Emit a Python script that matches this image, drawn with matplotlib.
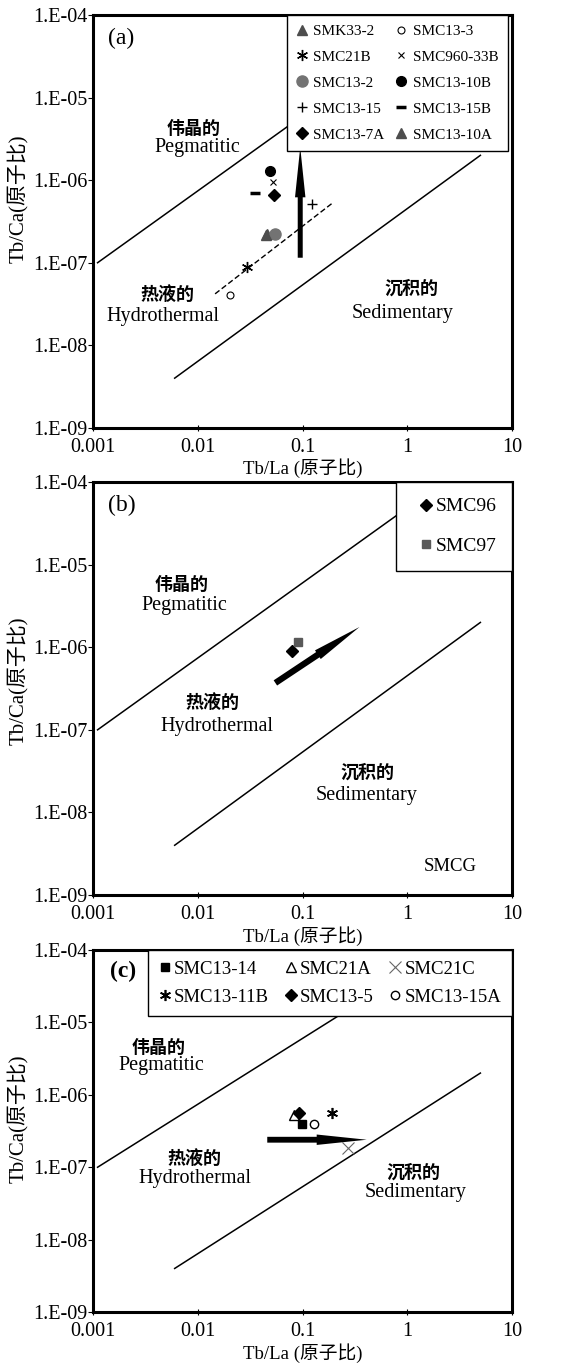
import numpy as np
import matplotlib
matplotlib.use('Agg')
import matplotlib.pyplot as plt
from matplotlib.ticker import FixedLocator, FixedFormatter, NullLocator

plt.rcParams['font.family'] = ['Liberation Serif', 'Noto Sans CJK SC']

# ---- boundary lines (same on every panel)
upper_x = [0.0011, 2.2]
upper_y = [1.0e-7, 1.0e-4]
lower_x = [0.006, 5.0]
lower_y = [4.0e-9, 2.0e-6]

xticks = [0.001, 0.01, 0.1, 1, 10]
xticklabels = ['0.001', '0.01', '0.1', '1', '10']
yticks = [1e-9, 1e-8, 1e-7, 1e-6, 1e-5, 1e-4]
yticklabels = ['1.E-09', '1.E-08', '1.E-07', '1.E-06', '1.E-05', '1.E-04']

# ---- panel (a) samples
a_names = ['SMK33-2', 'SMC13-3', 'SMC21B', 'SMC960-33B', 'SMC13-2',
           'SMC13-10B', 'SMC13-15', 'SMC13-15B', 'SMC13-7A', 'SMC13-10A']
a_x = [0.046, 0.0204, 0.0296, 0.052, 0.055, 0.049, 0.124, 0.035, 0.053, 0.045]
a_y = [2.2e-7, 4.1e-8, 8.9e-8, 9.5e-7, 2.2e-7, 1.29e-6, 5.1e-7, 7.0e-7, 6.6e-7, 2.15e-7]
a_trend_x = [0.0146, 0.19]
a_trend_y = [4.2e-8, 5.2e-7]
a_arrow_x = [0.095, 0.095]
a_arrow_y = [1.15e-7, 2.5e-6]

# ---- panel (b)
b_names = ['SMC96', 'SMC97']
b_x = [0.079, 0.091]
b_y = [9.0e-7, 1.15e-6]
b_arrow_x = [0.055, 0.35]
b_arrow_y = [3.7e-7, 1.76e-6]

# ---- panel (c)
c_names = ['SMC13-14', 'SMC21A', 'SMC21C', 'SMC13-11B', 'SMC13-5', 'SMC13-15A']
c_x = [0.099, 0.083, 0.27, 0.19, 0.092, 0.129]
c_y = [4.0e-7, 5.3e-7, 1.87e-7, 5.6e-7, 5.6e-7, 4.0e-7]
c_arrow_x = [0.046, 0.41]
c_arrow_y = [2.4e-7, 2.4e-7]

xlab = 'Tb/La (原子比)'
ylab = 'Tb/Ca(原子比)'

fig = plt.figure(figsize=(5.65, 13.67), dpi=100)
axa = fig.add_axes([0.165, 0.687, 0.741, 0.302])
axb = fig.add_axes([0.165, 0.3453, 0.741, 0.302])
axc = fig.add_axes([0.165, 0.0402, 0.741, 0.2648])


def setup(ax, ylab_y):
    ax.set_xscale('log')
    ax.set_yscale('log')
    ax.set_xlim(0.001, 10)
    ax.set_ylim(1e-9, 1e-4)
    ax.xaxis.set_major_locator(FixedLocator(xticks))
    ax.xaxis.set_major_formatter(FixedFormatter(xticklabels))
    ax.yaxis.set_major_locator(FixedLocator(yticks))
    ax.yaxis.set_major_formatter(FixedFormatter(yticklabels))
    ax.xaxis.set_minor_locator(NullLocator())
    ax.yaxis.set_minor_locator(NullLocator())
    ax.tick_params(axis='x', direction='inout', length=5, labelsize=14.5, pad=5)
    ax.tick_params(axis='y', direction='out', length=3.5, labelsize=14.5, pad=0.5)
    for s in ax.spines.values():
        s.set_linewidth(2.2)
    ax.plot(upper_x, upper_y, color='k', lw=1.1)
    ax.plot(lower_x, lower_y, color='k', lw=1.1)
    ax.set_xlabel(xlab, fontsize=13.5, labelpad=1)
    ax.set_ylabel(ylab, fontsize=15)
    ax.yaxis.set_label_coords(-0.153, ylab_y)


def region_text(ax, pos):
    cn = dict(fontsize=13, fontweight='bold', family=['Noto Sans CJK SC'], ha='center', va='center')
    en = dict(fontsize=14.5, ha='center', va='center')
    ax.text(*pos[0], '伟晶的', transform=ax.transAxes, **cn)
    ax.text(*pos[1], 'Pegmatitic', transform=ax.transAxes, **en)
    ax.text(*pos[2], '热液的', transform=ax.transAxes, **cn)
    ax.text(*pos[3], 'Hydrothermal', transform=ax.transAxes, **en)
    ax.text(*pos[4], '沉积的', transform=ax.transAxes, **cn)
    ax.text(*pos[5], 'Sedimentary', transform=ax.transAxes, **en)


def arrow(ax, xs, ys, tw=0.36):
    ax.annotate('', xy=(xs[1], ys[1]), xytext=(xs[0], ys[0]),
                arrowprops=dict(arrowstyle='simple,head_length=3.6,head_width=0.75,tail_width=%g' % tw,
                                mutation_scale=10, lw=0, fc='k', ec='k',
                                shrinkA=0, shrinkB=0), zorder=3)


# ================= (a)
setup(axa, 0.555)
region_text(axa, [(0.239, 0.726), (0.248, 0.678), (0.177, 0.322),
                  (0.167, 0.269), (0.761, 0.339), (0.74, 0.278)])
axa.text(0.035, 0.97, '(a)', transform=axa.transAxes, fontsize=17, va='top')
axa.plot(a_trend_x, a_trend_y, color='k', lw=1, ls=(0, (4, 2)))
arrow(axa, a_arrow_x, a_arrow_y)
a_style = [
    dict(marker='^', color='0.3', ms=7),
    dict(marker='o', mfc='white', mec='k', ms=5, mew=0.8),
    dict(marker=(6, 2, 0), color='k', ms=8, mew=1),
    dict(marker='x', color='k', ms=5, mew=0.8),
    dict(marker='o', color='0.45', ms=8),
    dict(marker='o', color='k', ms=7),
    dict(marker='+', color='k', ms=7, mew=1),
    dict(marker='_', color='k', ms=7, mew=2.5),
    dict(marker='D', color='k', ms=6),
    dict(marker='^', color='0.3', ms=7),
]
for name, x, y, st in zip(a_names, a_x, a_y, a_style):
    axa.plot([x], [y], ls='none', label=name, **st)
h, l = axa.get_legend_handles_labels()
order = [0, 2, 4, 6, 8, 1, 3, 5, 7, 9]
lg = axa.legend([h[i] for i in order], [l[i] for i in order], ncol=2,
                loc='upper right', bbox_to_anchor=(0.99, 1.0), borderaxespad=0,
                fontsize=11, fancybox=False, framealpha=1, edgecolor='k',
                handlelength=0.8, handletextpad=0.35, columnspacing=0.7,
                labelspacing=0.8, borderpad=0.6)
lg.get_frame().set_linewidth(1.0)

# ================= (b)
setup(axb, 0.518)
region_text(axb, [(0.212, 0.751), (0.218, 0.702), (0.284, 0.467),
                  (0.296, 0.407), (0.654, 0.298), (0.654, 0.242)])
axb.text(0.035, 0.97, '(b)', transform=axb.transAxes, fontsize=17, va='top')
axb.text(0.852, 0.068, 'SMCG', transform=axb.transAxes, fontsize=13.5,
         ha='center', va='center')
arrow(axb, b_arrow_x, b_arrow_y, tw=0.45)
b_style = [dict(marker='D', color='k', ms=6),
           dict(marker='s', color='0.35', ms=6)]
for name, x, y, st in zip(b_names, b_x, b_y, b_style):
    axb.plot([x], [y], ls='none', label=name, **st)
lg = axb.legend(loc='upper right', bbox_to_anchor=(1.0, 1.0), borderaxespad=0,
                fontsize=14, fancybox=False, framealpha=1, edgecolor='k',
                handlelength=1.5, handletextpad=-0.25, labelspacing=1.15,
                borderpad=0.8)
lg.get_frame().set_linewidth(1.0)

# ================= (c)
setup(axc, 0.533)
region_text(axc, [(0.155, 0.732), (0.162, 0.682), (0.241, 0.425),
                  (0.243, 0.37), (0.764, 0.387), (0.771, 0.329)])
axc.text(0.04, 0.97, '(c)', transform=axc.transAxes, fontsize=17,
         fontweight='bold', va='top')
arrow(axc, c_arrow_x, c_arrow_y, tw=0.42)
c_style = [
    dict(marker='s', color='k', ms=6),
    dict(marker='^', mfc='white', mec='k', ms=7, mew=1),
    dict(marker='x', color='0.4', ms=8, mew=0.8),
    dict(marker=(6, 2, 0), color='k', ms=8, mew=1.2),
    dict(marker='D', color='k', ms=6),
    dict(marker='o', mfc='white', mec='k', ms=6, mew=1),
]
for name, x, y, st in zip(c_names, c_x, c_y, c_style):
    axc.plot([x], [y], ls='none', label=name, **st)
h, l = axc.get_legend_handles_labels()
order = [0, 3, 1, 4, 2, 5]
lg = axc.legend([h[i] for i in order], [l[i] for i in order], ncol=3,
                loc='upper right', bbox_to_anchor=(1.0, 1.0), borderaxespad=0,
                fontsize=13.5, fancybox=False, framealpha=1, edgecolor='k',
                handlelength=0.7, handletextpad=0.15, columnspacing=0.8,
                labelspacing=0.6, borderpad=0.55)
lg.get_frame().set_linewidth(1.0)

fig.savefig('out.png', dpi=100)
